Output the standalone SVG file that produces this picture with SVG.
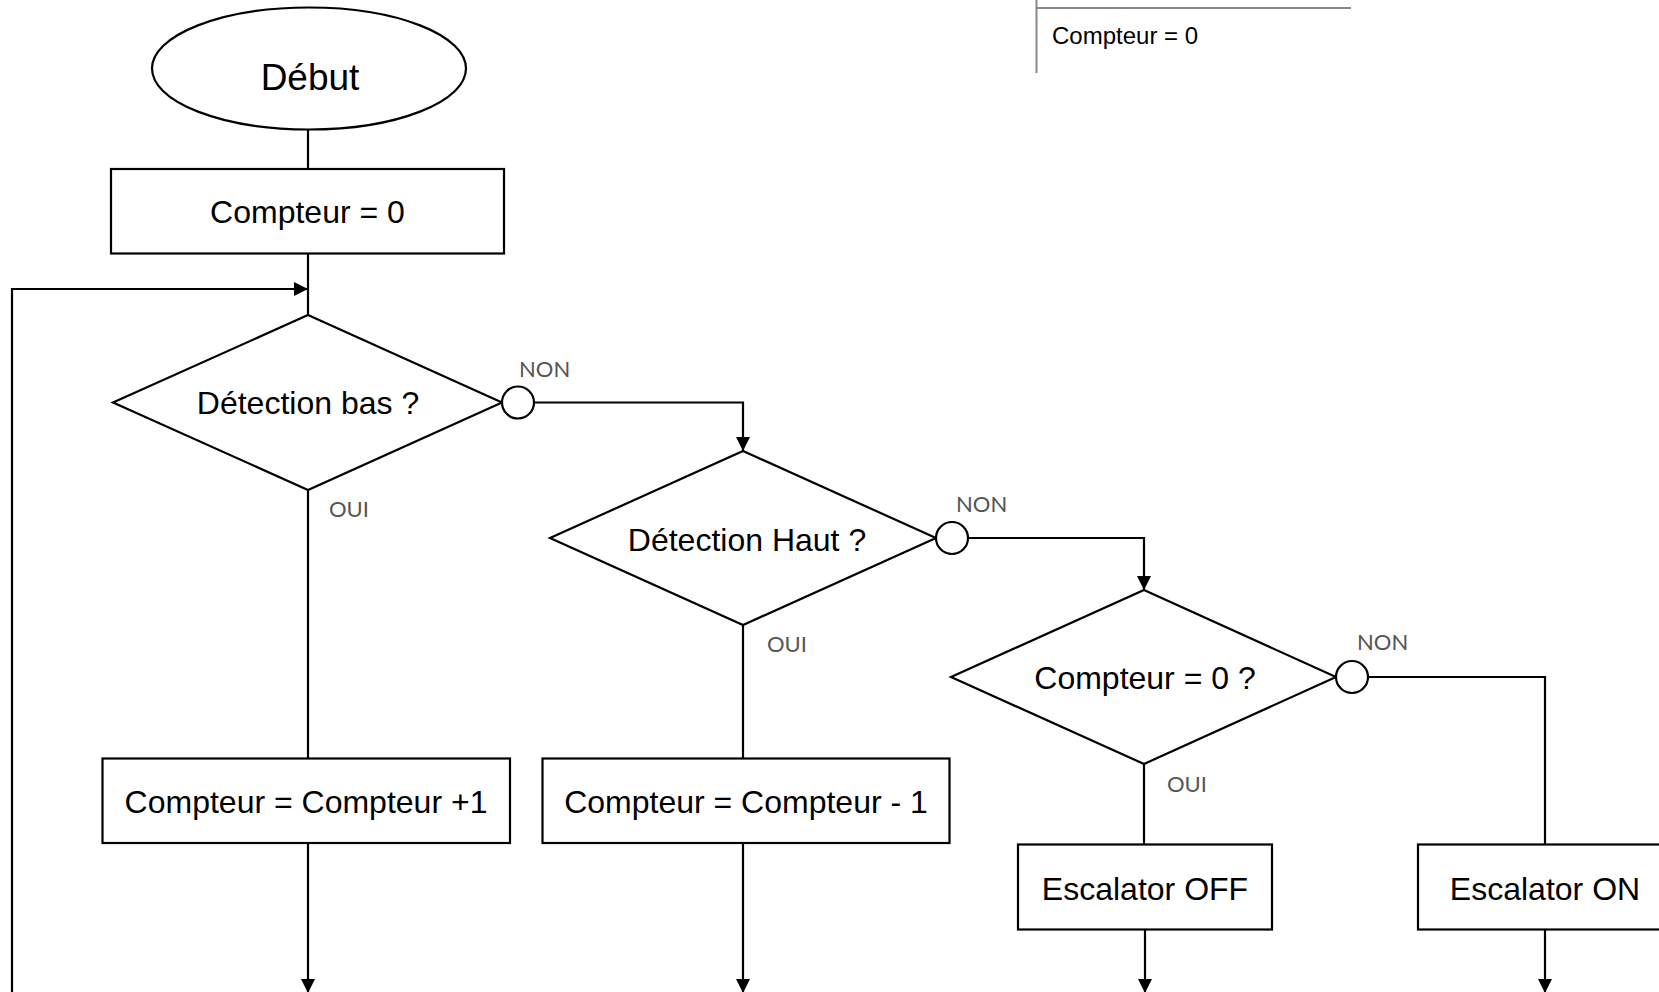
<svg xmlns="http://www.w3.org/2000/svg" width="1659" height="992" viewBox="0 0 1659 992">
<style>
  .shape { fill: #ffffff; stroke: #000000; stroke-width: 2.2; }
  .conn { fill: none; stroke: #000000; stroke-width: 2.2; }
  .txt { font-family: "Liberation Sans", Arial, sans-serif; font-size: 32px; fill: #000000; text-anchor: middle; }
  .big { font-size: 37px; }
  .lbl { font-family: "Lato", "Liberation Sans", sans-serif; font-size: 22px; fill: #555555; }
  .gray { fill: none; stroke: #888888; stroke-width: 2; }
</style>
<defs>
  <marker id="arrow" viewBox="0 0 14 14" refX="14" refY="7" markerWidth="14" markerHeight="14" markerUnits="userSpaceOnUse" orient="auto">
    <path d="M0,0 L14,7 L0,14 Z" fill="#000000"/>
  </marker>
</defs>
<rect width="1659" height="992" fill="#ffffff"/>

<g id="note-top">
  <path class="gray" d="M1036.5,0 V73 M1036.5,8 H1351"/>
  <text x="1052" y="44" font-family="Liberation Sans, Arial, sans-serif" font-size="24" fill="#000000">Compteur = 0</text>
</g>

<g id="connectors">
  <path class="conn" d="M308,129.5 V169"/>
  <path class="conn" d="M308,253.5 V315"/>
  <path class="conn" d="M12,992 V289 H308" marker-end="url(#arrow)"/>
  <path class="conn" d="M534,402.5 H743 V451" marker-end="url(#arrow)"/>
  <path class="conn" d="M308,490 V758.5"/>
  <path class="conn" d="M308,843 V993" marker-end="url(#arrow)"/>
  <path class="conn" d="M968,538 H1144 V590" marker-end="url(#arrow)"/>
  <path class="conn" d="M743,625 V758.5"/>
  <path class="conn" d="M743,843 V993" marker-end="url(#arrow)"/>
  <path class="conn" d="M1368,677 H1545 V844.5"/>
  <path class="conn" d="M1144,764 V844.5"/>
  <path class="conn" d="M1145,929.5 V993" marker-end="url(#arrow)"/>
  <path class="conn" d="M1545,929.5 V993" marker-end="url(#arrow)"/>
</g>

<g id="debut">
  <ellipse class="shape" cx="309" cy="68.5" rx="157" ry="61"/>
  <text class="txt big" x="310" y="89.5">Début</text>
</g>

<g id="init">
  <rect class="shape" x="111" y="169" width="393" height="84.5"/>
  <text class="txt" x="307.5" y="223">Compteur = 0</text>
</g>

<g id="detection-bas">
  <polygon class="shape" points="308,315 502,402.5 308,490 113,402.5"/>
  <text class="txt" x="308" y="414">Détection bas ?</text>
  <circle class="shape" cx="518" cy="402.5" r="16"/>
  <text class="lbl" x="519" y="377">NON</text>
  <text class="lbl" x="329" y="517">OUI</text>
</g>

<g id="detection-haut">
  <polygon class="shape" points="743,451 936,538 743,625 550,538"/>
  <text class="txt" x="747" y="550.5">Détection Haut ?</text>
  <circle class="shape" cx="952" cy="538" r="16"/>
  <text class="lbl" x="956" y="512">NON</text>
  <text class="lbl" x="767" y="652">OUI</text>
</g>

<g id="compteur-zero">
  <polygon class="shape" points="1144,590 1336,677 1144,764 951,677"/>
  <text class="txt" x="1145" y="689">Compteur = 0 ?</text>
  <circle class="shape" cx="1352" cy="677" r="16"/>
  <text class="lbl" x="1357" y="649.5">NON</text>
  <text class="lbl" x="1167" y="791.5">OUI</text>
</g>

<g id="increment">
  <rect class="shape" x="102.5" y="758.5" width="407.5" height="84.5"/>
  <text class="txt" x="306" y="812.5">Compteur = Compteur +1</text>
</g>

<g id="decrement">
  <rect class="shape" x="542.5" y="758.5" width="407" height="84.5"/>
  <text class="txt" x="746" y="812.5">Compteur = Compteur - 1</text>
</g>

<g id="escalator-off">
  <rect class="shape" x="1018" y="844.5" width="254" height="85"/>
  <text class="txt" x="1145" y="900">Escalator OFF</text>
</g>

<g id="escalator-on">
  <rect class="shape" x="1418" y="844.5" width="254" height="85"/>
  <text class="txt" x="1545" y="900">Escalator ON</text>
</g>
</svg>
